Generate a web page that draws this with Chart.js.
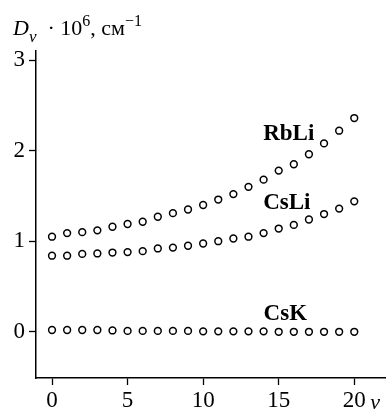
<!DOCTYPE html>
<html>
<head>
<meta charset="utf-8">
<script src="https://cdn.jsdelivr.net/npm/chart.js@4/dist/chart.umd.min.js"></script>
<style>
  html, body { margin: 0; padding: 0; background: #fff; }
  #wrap { width: 386px; height: 409px; position: relative; }
</style>
</head>
<body>
<div id="wrap"><canvas id="chart"></canvas></div>
<script>
const vValues = [0, 1, 2, 3, 4, 5, 6, 7, 8, 9, 10, 11, 12, 13, 14, 15, 16, 17, 18, 19, 20];
const rbliValues = [1.05, 1.09, 1.10, 1.12, 1.16, 1.19, 1.215, 1.27, 1.31, 1.35, 1.40, 1.46, 1.52, 1.60, 1.68, 1.78, 1.85, 1.96, 2.08, 2.22, 2.36];
const csliValues = [0.84, 0.84, 0.86, 0.865, 0.875, 0.88, 0.89, 0.92, 0.93, 0.95, 0.975, 1.00, 1.03, 1.05, 1.09, 1.14, 1.18, 1.24, 1.30, 1.36, 1.44];
const cskValues = [0.02, 0.02, 0.02, 0.02, 0.015, 0.01, 0.01, 0.01, 0.01, 0.01, 0.005, 0.005, 0.005, 0.005, 0.005, 0.0, 0.0, 0.0, 0.0, 0.0, 0.0];
const seriesNames = ['RbLi', 'CsLi', 'CsK'];
// where each series name sits (left end of baseline), in data units
const namePos = [[13.97, 2.12], [13.97, 1.36], [14.0, 0.13]];
const xTicks = [0, 5, 10, 15, 20];
const yTicks = [0, 1, 2, 3];

const serif = '"Liberation Serif", "DejaVu Serif", serif';

function toPoints(ys) {
  return vValues.map((v, i) => ({ x: v, y: ys[i] }));
}

function makeSet(label, ys) {
  return {
    label: label,
    data: toPoints(ys),
    pointStyle: 'circle',
    pointRadius: 3.4,
    pointBorderWidth: 1.5,
    pointBorderColor: '#000',
    pointBackgroundColor: '#fff',
    showLine: false
  };
}

// series names and axis titles
const textPlugin = {
  id: 'texts',
  afterDraw(chart) {
    const ctx = chart.ctx;
    const xs = chart.scales.x, ys = chart.scales.y;
    ctx.save();
    ctx.fillStyle = '#000';
    ctx.textBaseline = 'alphabetic';
    ctx.textAlign = 'left';
    ctx.font = 'bold 23px ' + serif;
    seriesNames.forEach((n, i) => {
      ctx.fillText(n, xs.getPixelForValue(namePos[i][0]), ys.getPixelForValue(namePos[i][1]));
    });

    // y axis title: D_v · 10^6, см^-1
    let x = 13;
    const base = 35;
    const parts = [
      ['italic 22px ' + serif, 'D', 0],
      ['italic 17px ' + serif, 'v', 7],
      ['22px ' + serif, '  · 10', 0],
      ['16px ' + serif, '6', -9],
      ['22px ' + serif, ', см', 0],
      ['16px ' + serif, '−1', -9]
    ];
    parts.forEach(p => {
      ctx.font = p[0];
      ctx.fillText(p[1], x, base + p[2]);
      x += ctx.measureText(p[1]).width;
    });

    // x axis title after the last tick label
    ctx.font = 'italic 22px ' + serif;
    ctx.fillText('v', xs.getPixelForValue(20) + 16, 409);
    ctx.restore();
  }
};

new Chart(document.getElementById('chart'), {
  type: 'scatter',
  data: {
    datasets: [
      makeSet(seriesNames[0], rbliValues),
      makeSet(seriesNames[1], csliValues),
      makeSet(seriesNames[2], cskValues)
    ]
  },
  options: {
    responsive: true,
    maintainAspectRatio: false,
    animation: false,
    layout: { autoPadding: false, padding: { top: 51, right: 0, left: 0, bottom: 0 } },
    plugins: {
      legend: { display: false },
      tooltip: { enabled: false }
    },
    scales: {
      x: {
        type: 'linear',
        min: -1.06,
        max: 22.1,
        afterBuildTicks: axis => { axis.ticks = xTicks.map(v => ({ value: v })); },
        afterFit: axis => { axis.height = 31; axis.paddingRight = 0; axis.paddingLeft = 0; },
        grid: { drawOnChartArea: false, drawTicks: true, tickLength: 7, tickColor: '#000', tickWidth: 1.3 },
        border: { display: true, color: '#000', width: 1.5 },
        ticks: { color: '#000', font: { family: serif, size: 23 }, padding: 2, maxRotation: 0, autoSkip: false }
      },
      y: {
        type: 'linear',
        min: -0.51,
        max: 3.1,
        afterBuildTicks: axis => { axis.ticks = yTicks.map(v => ({ value: v })); },
        afterFit: axis => { axis.width = 36; axis.paddingTop = 0; axis.paddingBottom = 0; },
        grid: { drawOnChartArea: false, drawTicks: true, tickLength: 7, tickColor: '#000', tickWidth: 1.3 },
        border: { display: true, color: '#000', width: 1.5 },
        ticks: { color: '#000', font: { family: serif, size: 23 }, padding: 4 }
      }
    }
  },
  plugins: [textPlugin]
});
</script>
</body>
</html>
